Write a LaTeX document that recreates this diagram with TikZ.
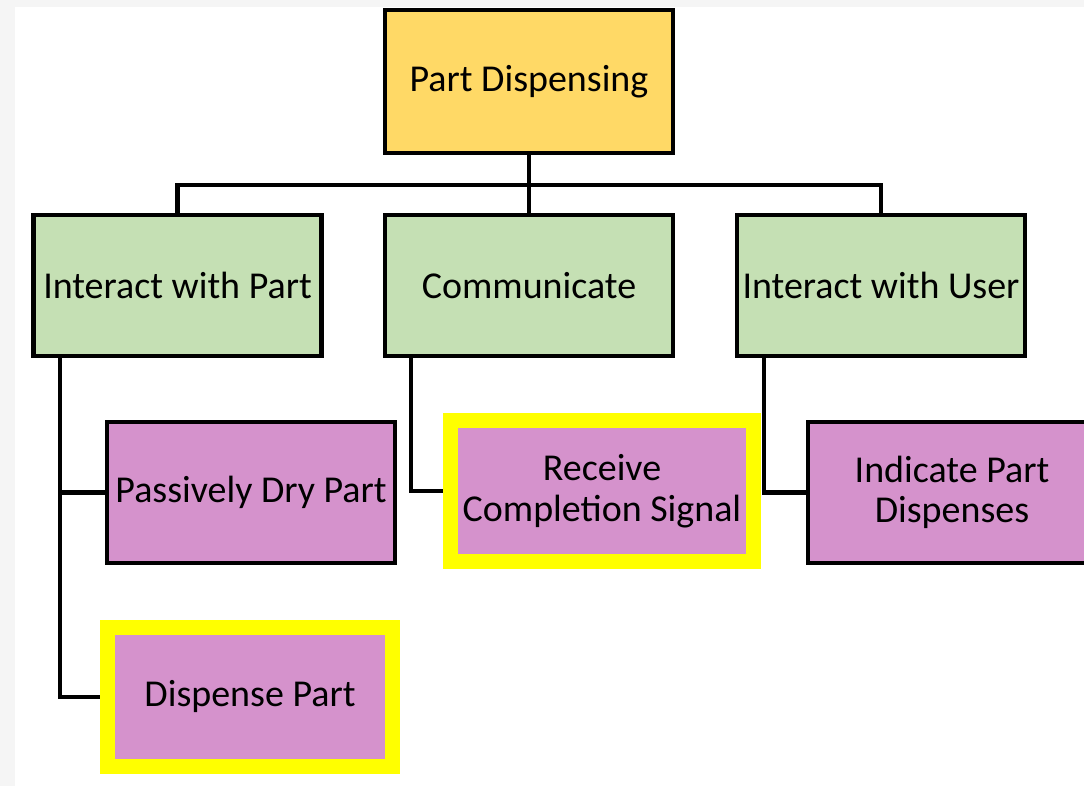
\documentclass[tikz,border=0pt]{standalone}
\usepackage{fontspec}
\setmainfont{Carlito}
\usepackage{tikz}
\definecolor{topgold}{HTML}{FFD966}
\definecolor{subgreen}{HTML}{C5E0B4}
\definecolor{leafpink}{HTML}{D592CC}
\definecolor{markyellow}{HTML}{FFFF00}
\tikzset{funcbox/.style={draw=black, line width=1.2pt, minimum width=2.88cm, minimum height=1.41cm, inner sep=0pt, align=center, font=\fontsize{10.8}{11.5}\selectfont}}
\tikzset{picked/.style={funcbox, draw=markyellow, line width=0.15cm, minimum width=2.85cm, minimum height=1.40cm}}
\tikzset{link/.style={line width=1.2pt}}

\begin{document}
\begin{tikzpicture}[x=0.01cm, y=-0.01cm]
            \fill [black!4] (0,0) rectangle (1084,786);
            \fill [white] (15,7) rectangle (1084,786);
            \useasboundingbox (0,0) rectangle (1084,786);
            \node [funcbox, fill=topgold, minimum height=1.43cm] (pd) at (529,81.5) {Part Dispensing};
            \node [funcbox, fill=subgreen] (ipart) at (177.5,285.5) {Interact with Part};
            \node [funcbox, fill=subgreen] (comm) at (529,285.5) {Communicate};
            \node [funcbox, fill=subgreen] (iuser) at (881,285.5) {Interact with User};
            \node [funcbox, fill=leafpink] (dry) at (251,492.5) {Passively Dry Part};
            \node [picked, fill=leafpink, minimum width=3.02cm] (recv) at (602,491) {Receive\\Completion Signal};
            \node [funcbox, fill=leafpink] (ind) at (952,492.5) {Indicate Part\\Dispenses};
            \node [picked, fill=leafpink, minimum height=1.395cm] (disp) at (250,697) {Dispense Part};
            \coordinate (bus) at (529,185);
            \draw [link] (pd.south) -- (comm.north);
            \draw [link] (ipart.north) |- (bus) -| (iuser.north);
            \draw [link] ([xshift=0.29cm]ipart.south west) |- (dry.west);
            \draw [link] ([xshift=0.29cm]ipart.south west) |- (disp.west);
            \draw [link] ([xshift=0.28cm]comm.south west) |- (recv.west);
            \draw [link] ([xshift=0.29cm]iuser.south west) |- (ind.west);
\end{tikzpicture}
\end{document}
